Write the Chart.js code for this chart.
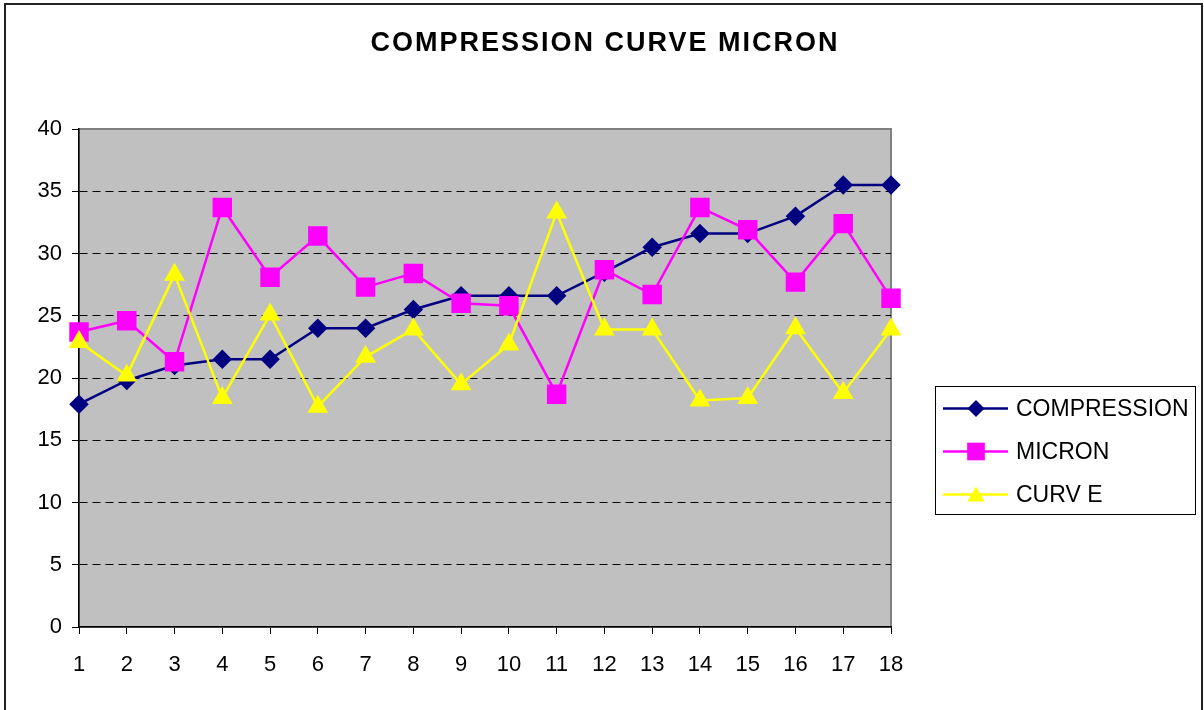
<!DOCTYPE html>
<html>
<head>
<meta charset="utf-8">
<title>COMPRESSION CURVE MICRON</title>
<script src="https://cdn.jsdelivr.net/npm/chart.js"></script>
<style>
  html, body { margin: 0; padding: 0; background: #fff; }
  canvas { display: block; }
</style>
</head>
<body>
<canvas id="lineChart" width="1204" height="710"></canvas>
<script>
var chartTitle = 'COMPRESSION CURVE MICRON';
var labels = ['1', '2', '3', '4', '5', '6', '7', '8', '9', '10', '11', '12', '13', '14', '15', '16', '17', '18'];
var seriesNames = ['COMPRESSION', 'MICRON', 'CURV E'];
var compression = [17.9, 19.8, 21.0, 21.5, 21.5, 24.0, 24.0, 25.5, 26.6, 26.6, 26.6, 28.5, 30.5, 31.6, 31.6, 33.0, 35.5, 35.5];
var micron = [23.7, 24.6, 21.3, 33.7, 28.1, 31.4, 27.3, 28.4, 26.0, 25.8, 18.7, 28.7, 26.7, 33.7, 31.9, 27.7, 32.4, 26.4];
var curve = [22.9, 20.2, 28.3, 18.4, 25.1, 17.7, 21.7, 23.9, 19.5, 22.7, 33.3, 23.9, 23.9, 18.2, 18.4, 24.0, 18.8, 23.9];
var yMin = 0, yMax = 40, yStep = 5;

var FONT = '"Liberation Sans", Arial, sans-serif';

// little marker painter for the legend (same shapes as the datasets)
function drawMarker(ctx, style, x, y, r, color) {
    ctx.fillStyle = color;
    ctx.beginPath();
    if (style === 'rectRot') {
        ctx.moveTo(x, y - r); ctx.lineTo(x + r, y); ctx.lineTo(x, y + r); ctx.lineTo(x - r, y);
    } else if (style === 'rect') {
        var s = r * Math.SQRT1_2;
        ctx.rect(x - s, y - s, 2 * s, 2 * s);
    } else {
        var h = r * Math.sin(Math.PI / 3);
        ctx.moveTo(x, y - r); ctx.lineTo(x + h, y + r / 2); ctx.lineTo(x - h, y + r / 2);
    }
    ctx.closePath();
    ctx.fill();
}

var excelLook = {
    id: 'excelLook',
    beforeDraw: function (chart) {
        var ctx = chart.ctx, a = chart.chartArea;
        ctx.save();
        ctx.fillStyle = '#fff';
        ctx.fillRect(0, 0, chart.width, chart.height);
        // outer frame
        ctx.strokeStyle = '#222';
        ctx.lineWidth = 2;
        ctx.strokeRect(5, 4, 1197, 740);
        // plot area
        ctx.fillStyle = '#C0C0C0';
        ctx.fillRect(a.left, a.top, a.right - a.left, a.bottom - a.top);
        ctx.strokeStyle = '#808080';
        ctx.lineWidth = 2;
        ctx.strokeRect(a.left, a.top, a.right - a.left, a.bottom - a.top);
        // title
        ctx.fillStyle = '#000';
        ctx.font = 'bold 27px ' + FONT;
        ctx.letterSpacing = '2px';
        ctx.textAlign = 'center';
        ctx.textBaseline = 'alphabetic';
        ctx.fillText(chartTitle, 605, 51);
        ctx.restore();
    },
    afterDraw: function (chart) {
        var ctx = chart.ctx;
        ctx.save();
        ctx.strokeStyle = '#000';
        ctx.lineWidth = 1;
        ctx.strokeRect(935.5, 386.5, 260, 128);
        var rows = [408.5, 451.5, 494.5];
        var order = [2, 1, 0];
        ctx.font = '23px ' + FONT;
        ctx.textAlign = 'left';
        ctx.textBaseline = 'middle';
        chart.data.datasets.forEach(function (ds, i) {
            var y = rows[order[i]];
            ctx.strokeStyle = ds.borderColor;
            ctx.lineWidth = ds.borderWidth;
            ctx.beginPath();
            ctx.moveTo(943, y);
            ctx.lineTo(1008, y);
            ctx.stroke();
            drawMarker(ctx, ds.pointStyle, 976, ds.pointStyle === 'triangle' ? y + 2 : y, ds.pointRadius + 0.5, ds.pointBackgroundColor);
            ctx.fillStyle = '#000';
            ctx.fillText(ds.label, 1016, y + 1);
        });
        ctx.restore();
    }
};

var ctx = document.getElementById('lineChart').getContext('2d');
new Chart(ctx, {
    type: 'line',
    data: {
        labels: labels,
        datasets: [{
            label: seriesNames[2],
            data: curve,
            order: 0,
            borderColor: '#FFFF00',
            backgroundColor: '#FFFF00',
            pointBackgroundColor: '#FFFF00',
            pointBorderColor: '#FFFF00',
            pointStyle: 'triangle',
            pointRadius: 9.5,
            borderWidth: 2.5
        }, {
            label: seriesNames[1],
            data: micron,
            order: 1,
            borderColor: '#FF00FF',
            backgroundColor: '#FF00FF',
            pointBackgroundColor: '#FF00FF',
            pointBorderColor: '#FF00FF',
            pointStyle: 'rect',
            pointRadius: 12,
            borderWidth: 2.5
        }, {
            label: seriesNames[0],
            data: compression,
            order: 2,
            borderColor: '#000080',
            backgroundColor: '#000080',
            pointBackgroundColor: '#000080',
            pointBorderColor: '#000080',
            pointStyle: 'rectRot',
            pointRadius: 8,
            borderWidth: 2.5
        }]
    },
    options: {
        responsive: false,
        animation: false,
        devicePixelRatio: 1,
        events: [],
        layout: { padding: { top: 129, left: 0, right: 313, bottom: 0 } },
        elements: { line: { tension: 0 }, point: { borderWidth: 1 } },
        plugins: {
            legend: { display: false },
            title: { display: false },
            tooltip: { enabled: false }
        },
        scales: {
            x: {
                offset: false,
                afterFit: function (scale) { scale.height = 83; },
                grid: { drawOnChartArea: false, drawTicks: true, tickLength: 7, tickColor: '#000' },
                border: { color: '#000', width: 1.5 },
                ticks: {
                    color: '#000',
                    font: { family: FONT, size: 22 },
                    padding: 18,
                    autoSkip: false,
                    maxRotation: 0
                }
            },
            y: {
                min: yMin,
                max: yMax,
                afterFit: function (scale) { scale.width = 79; },
                grid: {
                    color: function (c) {
                        return (c.tick && (c.tick.value === yMin || c.tick.value === yMax)) ? 'rgba(0,0,0,0)' : '#000';
                    },
                    lineWidth: 1,
                    tickLength: 7,
                    tickColor: '#000'
                },
                border: { color: '#000', width: 1.5, dash: [8, 5] },
                ticks: {
                    stepSize: yStep,
                    color: '#000',
                    font: { family: FONT, size: 22 },
                    padding: 10
                }
            }
        }
    },
    plugins: [excelLook]
});
</script>
</body>
</html>
